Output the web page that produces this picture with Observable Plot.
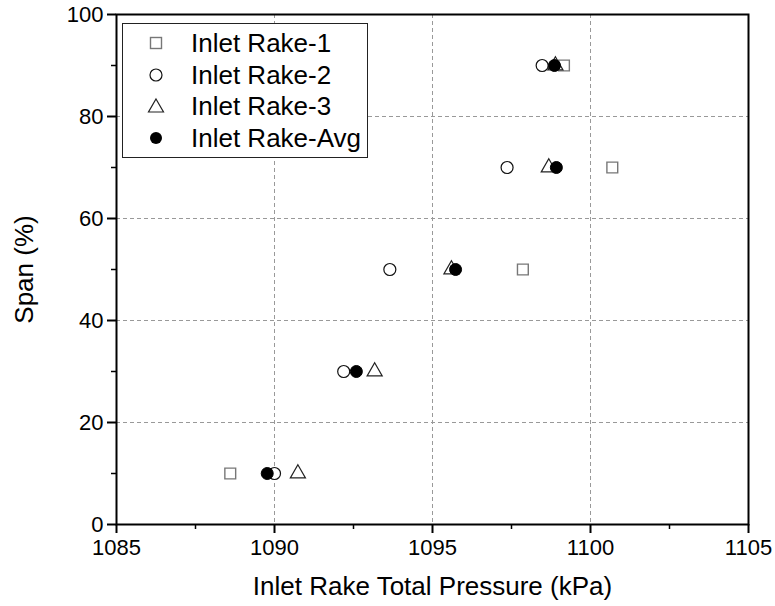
<!DOCTYPE html>
<html><head><meta charset="utf-8">
<script src="https://cdn.jsdelivr.net/npm/d3@7"></script>
<script src="https://cdn.jsdelivr.net/npm/@observablehq/plot@0.6"></script>
<style>
body{margin:0;background:#fff;font-family:"Liberation Sans",Arial,sans-serif;}
#wrap{position:relative;width:775px;height:606px;}
#legend{position:absolute;left:122px;top:23px;width:246px;height:135px;border:1.5px solid #222;background:#fff;box-sizing:border-box;}
.row{position:absolute;left:0;height:30px;line-height:30px;font-size:26px;color:#000;white-space:nowrap;}
.row svg{position:absolute;left:22px;top:5px;}
.row span{position:absolute;left:68px;top:0;}
</style>
</head><body>
<div id="wrap"><div id="chart"></div><div id="legend"></div></div>
<script>
const span = [10, 30, 50, 70, 90];
const rake1 = [1088.6, null, 1097.86, 1100.69, 1099.16];
const rake2 = [1090.0, 1092.19, 1093.65, 1097.36, 1098.47];
const rake3 = [1090.74, 1093.17, 1095.6, 1098.68, 1098.89];
const rakeAvg = [1089.77, 1092.59, 1095.73, 1098.92, 1098.86];
const seriesNames = ["Inlet Rake-1", "Inlet Rake-2", "Inlet Rake-3", "Inlet Rake-Avg"];
const xTicks = [1085, 1090, 1095, 1100, 1105];
const xMinor = [1087.5, 1092.5, 1097.5, 1102.5];
const yTicks = [0, 20, 40, 60, 80, 100];
const yMinor = [10, 30, 50, 70, 90];
const xTitle = "Inlet Rake Total Pressure (kPa)";
const yTitle = "Span (%)";

const rows = (vals) => span.map((s, i) => ({s, v: vals[i]})).filter(d => d.v != null);

const chart = Plot.plot({
  width: 775, height: 606,
  marginLeft: 116, marginRight: 27, marginTop: 14, marginBottom: 82,
  x: {domain: [1085, 1105]},
  y: {domain: [0, 100]},
  style: {fontFamily: "'Liberation Sans', Arial, sans-serif", fontSize: "22px", color: "#000", background: "#fff"},
  marks: [
    Plot.gridX(xTicks.slice(1, -1), {stroke: "#999", strokeOpacity: 1, strokeDasharray: "4,3", strokeWidth: 1}),
    Plot.gridY(yTicks.slice(1, -1), {stroke: "#999", strokeOpacity: 1, strokeDasharray: "4,3", strokeWidth: 1}),
    Plot.axisX(xMinor, {tickSize: 5, tickFormat: () => "", label: null, strokeWidth: 1.5}),
    Plot.axisX(xTicks, {tickSize: 9, tickPadding: 6, tickFormat: d => String(d), label: null, strokeWidth: 2}),
    Plot.axisY(yMinor, {tickSize: 5, tickFormat: () => "", label: null, strokeWidth: 1.5}),
    Plot.axisY(yTicks, {tickSize: 9, tickPadding: 4, tickFormat: d => String(d), label: null, strokeWidth: 2}),
    Plot.frame({stroke: "#000", strokeWidth: 2}),
    Plot.text([xTitle], {frameAnchor: "bottom", dy: 62, lineAnchor: "middle", textAnchor: "middle", fontSize: 26, fill: "#000"}),
    Plot.text([yTitle], {frameAnchor: "left", dx: -92, rotate: -90, lineAnchor: "middle", textAnchor: "middle", fontSize: 26, fill: "#000"}),
    Plot.dot(rows(rake1), {x: "v", y: "s", symbol: "square", r: 6.1, stroke: "#777", strokeWidth: 1.4, fill: "#fff"}),
    Plot.dot(rows(rake2), {x: "v", y: "s", symbol: "circle", r: 6, stroke: "#111", strokeWidth: 1.2, fill: "#fff"}),
    Plot.dot(rows(rake3), {x: "v", y: "s", symbol: "triangle", r: 5.6, stroke: "#222", strokeWidth: 1.2, fill: "#fff"}),
    Plot.dot(rows(rakeAvg), {x: "v", y: "s", symbol: "circle", r: 6, stroke: "#000", strokeWidth: 1, fill: "#000"})
  ]
});
document.getElementById("chart").appendChild(chart);

const symbolSvgs = [
  '<svg width="22" height="20"><rect x="5.5" y="4.5" width="11" height="11" fill="#fff" stroke="#777" stroke-width="1.4"/></svg>',
  '<svg width="22" height="20"><circle cx="11" cy="10" r="6" fill="#fff" stroke="#111" stroke-width="1.2"/></svg>',
  '<svg width="22" height="20"><polygon points="11,3 18.5,16 3.5,16" fill="#fff" stroke="#222" stroke-width="1.2"/></svg>',
  '<svg width="22" height="20"><circle cx="11" cy="10" r="6" fill="#000"/></svg>'
];
const legend = document.getElementById("legend");
seriesNames.forEach((name, i) => {
  const row = document.createElement("div");
  row.className = "row";
  row.style.top = (4 + i * 31.7) + "px";
  row.innerHTML = symbolSvgs[i] + "<span>" + name + "</span>";
  legend.appendChild(row);
});
</script>
</body></html>
